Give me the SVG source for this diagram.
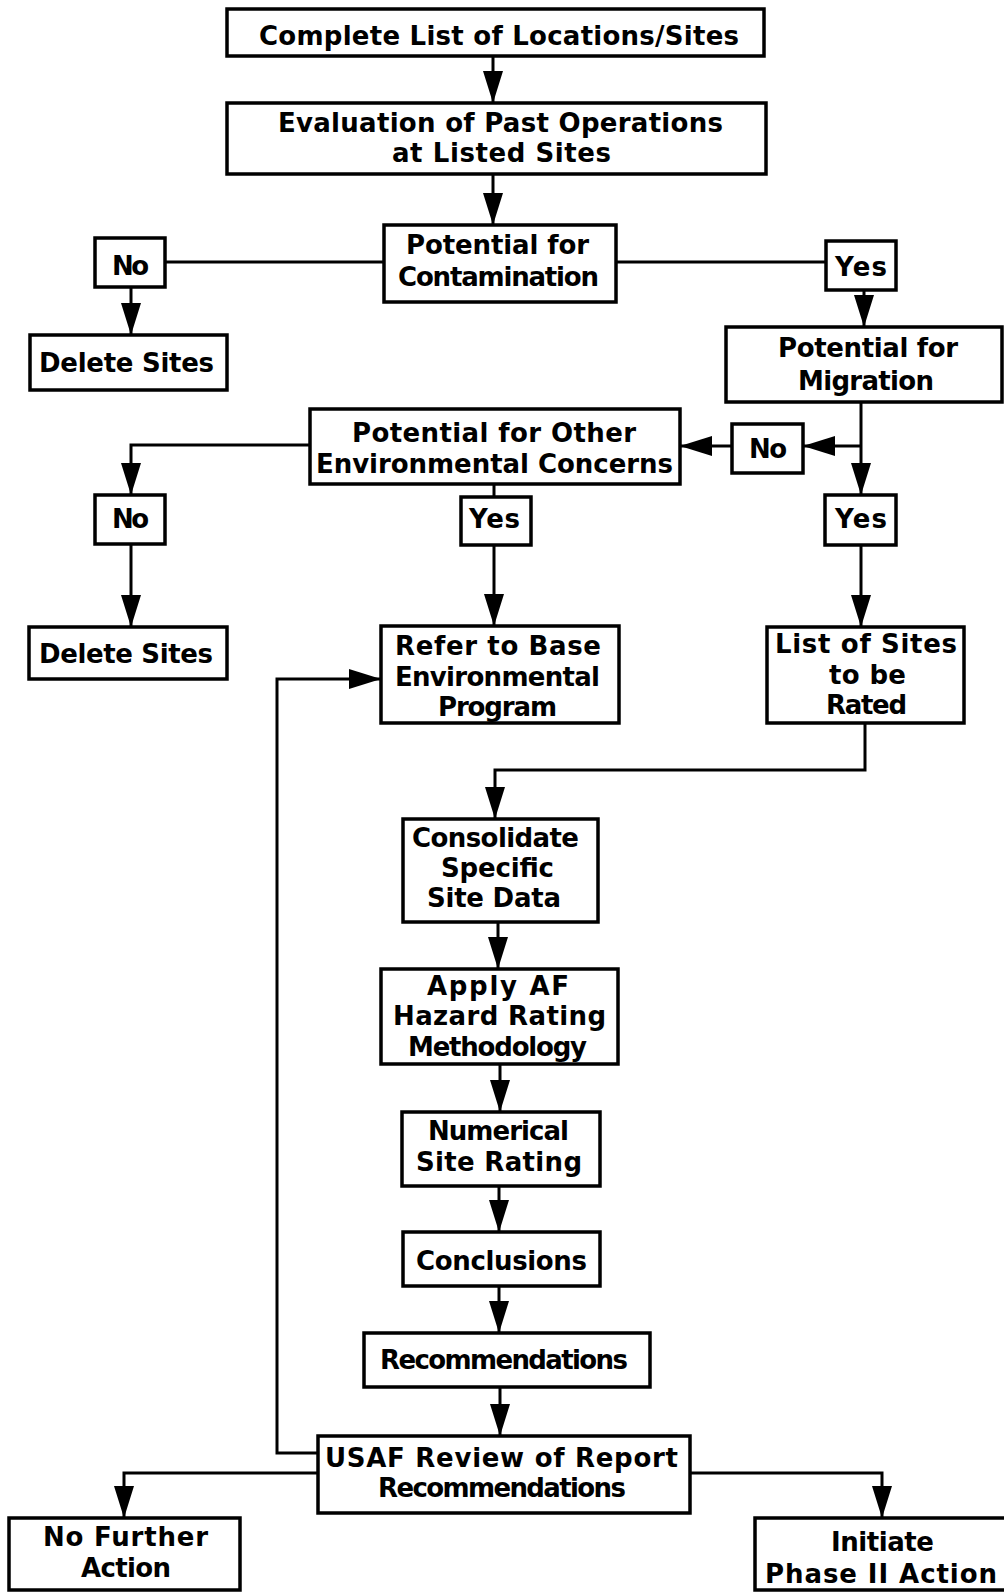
<svg xmlns="http://www.w3.org/2000/svg" width="1004" height="1592" viewBox="0 0 1004 1592">
<style>
rect.box{fill:#fff;stroke:#000;stroke-width:3.5}
text{font-family:"DejaVu Sans","Liberation Sans",sans-serif;font-weight:bold;font-size:26px;fill:#000}
.c{fill:none;stroke:#000;stroke-width:3}
</style>
<defs>
<marker id="ah" markerUnits="userSpaceOnUse" markerWidth="32" markerHeight="20" refX="32" refY="10" orient="auto">
<path d="M0,0 L32,10 L0,20 z" fill="#000"/>
</marker>
</defs>
<rect width="1004" height="1592" fill="#fff"/>
<g id="connectors">
<path class="c" d="M493,56 V103" marker-end="url(#ah)"/>
<path class="c" d="M493,174 V225" marker-end="url(#ah)"/>
<path class="c" d="M384,262 H165"/>
<path class="c" d="M616,262 H826"/>
<path class="c" d="M131,287 V335" marker-end="url(#ah)"/>
<path class="c" d="M864,290 V327" marker-end="url(#ah)"/>
<path class="c" d="M861,402 V495" marker-end="url(#ah)"/>
<path class="c" d="M861,446 H803" marker-end="url(#ah)"/>
<path class="c" d="M732,446 H680" marker-end="url(#ah)"/>
<path class="c" d="M310,445 H131 V495" marker-end="url(#ah)"/>
<path class="c" d="M494,484 V497"/>
<path class="c" d="M131,544 V627" marker-end="url(#ah)"/>
<path class="c" d="M494,545 V626" marker-end="url(#ah)"/>
<path class="c" d="M861,545 V627" marker-end="url(#ah)"/>
<path class="c" d="M865,724 V770 H495 V819" marker-end="url(#ah)"/>
<path class="c" d="M498,922 V969" marker-end="url(#ah)"/>
<path class="c" d="M500,1064 V1112" marker-end="url(#ah)"/>
<path class="c" d="M499,1186 V1232" marker-end="url(#ah)"/>
<path class="c" d="M499,1286 V1333" marker-end="url(#ah)"/>
<path class="c" d="M500,1387 V1436" marker-end="url(#ah)"/>
<path class="c" d="M318,1453 H277 V679 H381" marker-end="url(#ah)"/>
<path class="c" d="M318,1473 H124 V1518" marker-end="url(#ah)"/>
<path class="c" d="M690,1473 H882 V1518" marker-end="url(#ah)"/>
</g>
<g id="n1"><rect class="box" x="227" y="9" width="537" height="47"/><text x="259" y="45" textLength="480">Complete List of Locations/Sites</text></g>
<g id="n2"><rect class="box" x="227" y="103" width="539" height="71"/><text x="278" y="132" textLength="445">Evaluation of Past Operations</text><text x="392" y="162" textLength="219">at Listed Sites</text></g>
<g id="n3"><rect class="box" x="384" y="225" width="232" height="77"/><text x="406" y="254" textLength="183">Potential for</text><text x="398" y="286" textLength="201">Contamination</text></g>
<g id="no1"><rect class="box" x="95" y="238" width="70" height="49"/><text x="112" y="275" textLength="37">No</text></g>
<g id="yes1"><rect class="box" x="826" y="241" width="70" height="49"/><text x="835" y="276" textLength="52">Yes</text></g>
<g id="del1"><rect class="box" x="30" y="335" width="197" height="55"/><text x="39" y="372" textLength="175">Delete Sites</text></g>
<g id="mig"><rect class="box" x="726" y="327" width="276" height="75"/><text x="778" y="357" textLength="180">Potential for</text><text x="798" y="390" textLength="136">Migration</text></g>
<g id="other"><rect class="box" x="310" y="409" width="370" height="75"/><text x="352" y="442" textLength="284">Potential for Other</text><text x="316" y="473" textLength="357">Environmental Concerns</text></g>
<g id="no2"><rect class="box" x="732" y="424" width="71" height="49"/><text x="749" y="458" textLength="38">No</text></g>
<g id="no3"><rect class="box" x="95" y="495" width="70" height="49"/><text x="112" y="528" textLength="37">No</text></g>
<g id="yes2"><rect class="box" x="461" y="497" width="70" height="48"/><text x="469" y="528" textLength="51">Yes</text></g>
<g id="yes3"><rect class="box" x="825" y="495" width="71" height="50"/><text x="835" y="528" textLength="52">Yes</text></g>
<g id="del2"><rect class="box" x="29" y="627" width="198" height="52"/><text x="39" y="663" textLength="174">Delete Sites</text></g>
<g id="refer"><rect class="box" x="381" y="626" width="238" height="97"/><text x="395" y="655" textLength="206">Refer to Base</text><text x="395" y="686" textLength="205">Environmental</text><text x="438" y="716" textLength="119">Program</text></g>
<g id="list"><rect class="box" x="767" y="627" width="197" height="96"/><text x="775" y="653" textLength="182">List of Sites</text><text x="829" y="684" textLength="77">to be</text><text x="826" y="714" textLength="81">Rated</text></g>
<g id="cons"><rect class="box" x="403" y="819" width="195" height="103"/><text x="412" y="847" textLength="167">Consolidate</text><text x="441" y="877" textLength="113">Specific</text><text x="427" y="907" textLength="134">Site Data</text></g>
<g id="apply"><rect class="box" x="381" y="969" width="237" height="95"/><text x="427" y="995" textLength="142">Apply AF</text><text x="393" y="1025" textLength="213">Hazard Rating</text><text x="408" y="1056" textLength="179">Methodology</text></g>
<g id="num"><rect class="box" x="402" y="1112" width="198" height="74"/><text x="428" y="1140" textLength="141">Numerical</text><text x="416" y="1171" textLength="166">Site Rating</text></g>
<g id="concl"><rect class="box" x="403" y="1232" width="197" height="54"/><text x="416" y="1270" textLength="171">Conclusions</text></g>
<g id="recs"><rect class="box" x="364" y="1333" width="286" height="54"/><text x="380" y="1369" textLength="248">Recommendations</text></g>
<g id="usaf"><rect class="box" x="318" y="1436" width="372" height="77"/><text x="325" y="1467" textLength="353">USAF Review of Report</text><text x="378" y="1497" textLength="248">Recommendations</text></g>
<g id="nfa"><rect class="box" x="9" y="1518" width="231" height="72"/><text x="43" y="1546" textLength="165">No Further</text><text x="81" y="1577" textLength="90">Action</text></g>
<g id="p2"><rect class="box" x="755" y="1518" width="260" height="72"/><text x="831" y="1551" textLength="103">Initiate</text><text x="765" y="1583" textLength="232">Phase II Action</text></g>
</svg>
